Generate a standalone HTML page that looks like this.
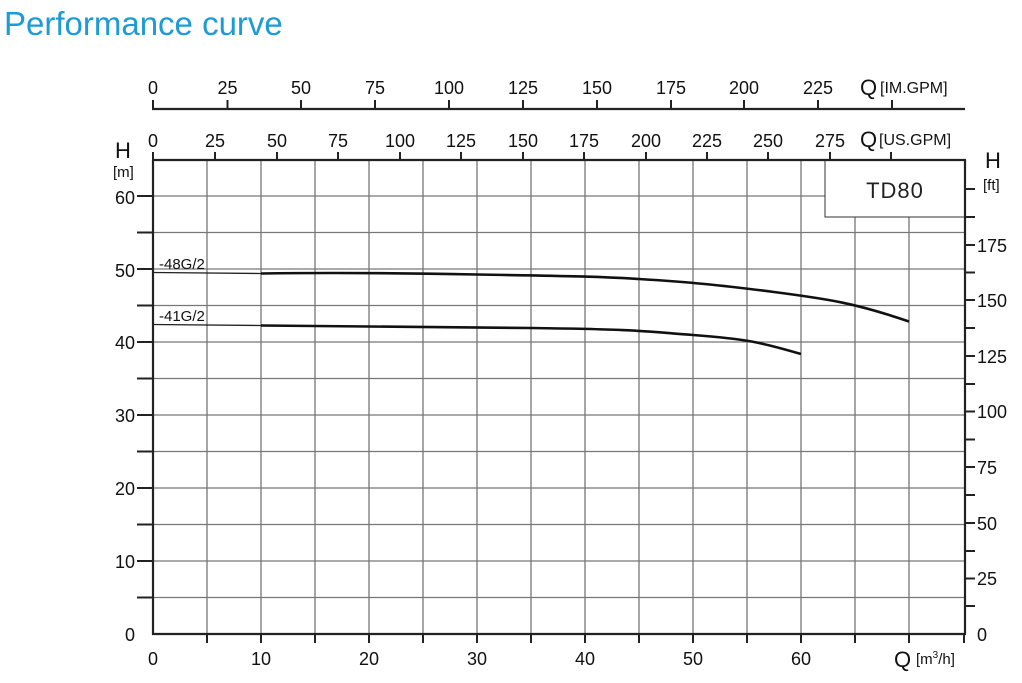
<!DOCTYPE html>
<html><head><style>body{margin:0;background:#fff}svg{display:block}text{font-family:"Liberation Sans",Arial,sans-serif}</style></head><body>
<svg width="1022" height="683" viewBox="0 0 1022 683" xmlns="http://www.w3.org/2000/svg">
<text x="4" y="35" font-size="33" fill="#1d9bd7">Performance curve</text>
<g stroke="#777" stroke-width="1.3">
<line x1="207" y1="160" x2="207" y2="634"/><line x1="261" y1="160" x2="261" y2="634"/><line x1="315" y1="160" x2="315" y2="634"/><line x1="369" y1="160" x2="369" y2="634"/><line x1="423" y1="160" x2="423" y2="634"/><line x1="477" y1="160" x2="477" y2="634"/><line x1="531" y1="160" x2="531" y2="634"/><line x1="585" y1="160" x2="585" y2="634"/><line x1="639" y1="160" x2="639" y2="634"/><line x1="693" y1="160" x2="693" y2="634"/><line x1="747" y1="160" x2="747" y2="634"/><line x1="801" y1="160" x2="801" y2="634"/><line x1="855" y1="217" x2="855" y2="634"/><line x1="909" y1="217" x2="909" y2="634"/>
<line x1="153" y1="597.5" x2="965" y2="597.5"/><line x1="153" y1="561" x2="965" y2="561"/><line x1="153" y1="524.5" x2="965" y2="524.5"/><line x1="153" y1="488" x2="965" y2="488"/><line x1="153" y1="451.5" x2="965" y2="451.5"/><line x1="153" y1="415" x2="965" y2="415"/><line x1="153" y1="378.5" x2="965" y2="378.5"/><line x1="153" y1="342" x2="965" y2="342"/><line x1="153" y1="305.5" x2="965" y2="305.5"/><line x1="153" y1="269" x2="965" y2="269"/><line x1="153" y1="232.5" x2="965" y2="232.5"/><line x1="153" y1="196" x2="825" y2="196"/>
</g>
<rect x="825" y="160" width="140" height="57" fill="#fff" stroke="#333" stroke-width="1"/>
<text x="895" y="198" font-size="22" fill="#222" text-anchor="middle" letter-spacing="1">TD80</text>
<g stroke="#222" stroke-width="2.2" fill="none">
<line x1="153" y1="160" x2="153" y2="635"/><line x1="965" y1="160" x2="965" y2="635"/>
<line x1="152" y1="634" x2="966" y2="634"/><line x1="152" y1="160" x2="966" y2="160"/>
<line x1="152" y1="109" x2="965" y2="109"/>
</g>
<g stroke="#222" stroke-width="2">
<line x1="137" y1="597.5" x2="153" y2="597.5"/><line x1="137" y1="561" x2="153" y2="561"/><line x1="137" y1="524.5" x2="153" y2="524.5"/><line x1="137" y1="488" x2="153" y2="488"/><line x1="137" y1="451.5" x2="153" y2="451.5"/><line x1="137" y1="415" x2="153" y2="415"/><line x1="137" y1="378.5" x2="153" y2="378.5"/><line x1="137" y1="342" x2="153" y2="342"/><line x1="137" y1="305.5" x2="153" y2="305.5"/><line x1="137" y1="269" x2="153" y2="269"/><line x1="137" y1="232.5" x2="153" y2="232.5"/><line x1="137" y1="196" x2="153" y2="196"/>
<line x1="207" y1="634" x2="207" y2="643"/><line x1="261" y1="634" x2="261" y2="643"/><line x1="315" y1="634" x2="315" y2="643"/><line x1="369" y1="634" x2="369" y2="643"/><line x1="423" y1="634" x2="423" y2="643"/><line x1="477" y1="634" x2="477" y2="643"/><line x1="531" y1="634" x2="531" y2="643"/><line x1="585" y1="634" x2="585" y2="643"/><line x1="639" y1="634" x2="639" y2="643"/><line x1="693" y1="634" x2="693" y2="643"/><line x1="747" y1="634" x2="747" y2="643"/><line x1="801" y1="634" x2="801" y2="643"/><line x1="855" y1="634" x2="855" y2="643"/><line x1="909" y1="634" x2="909" y2="643"/><line x1="964" y1="634" x2="964" y2="643"/>
<line x1="965" y1="606" x2="975" y2="606"/><line x1="965" y1="578.5" x2="975" y2="578.5"/><line x1="965" y1="551" x2="975" y2="551"/><line x1="965" y1="523" x2="975" y2="523"/><line x1="965" y1="495" x2="975" y2="495"/><line x1="965" y1="467" x2="975" y2="467"/><line x1="965" y1="439.5" x2="975" y2="439.5"/><line x1="965" y1="411.5" x2="975" y2="411.5"/><line x1="965" y1="384" x2="975" y2="384"/><line x1="965" y1="356" x2="975" y2="356"/><line x1="965" y1="328" x2="975" y2="328"/><line x1="965" y1="300" x2="975" y2="300"/><line x1="965" y1="272.5" x2="975" y2="272.5"/><line x1="965" y1="245" x2="975" y2="245"/><line x1="965" y1="217" x2="975" y2="217"/><line x1="965" y1="189" x2="975" y2="189"/>
<line x1="153" y1="152" x2="153" y2="160"/><line x1="215" y1="152" x2="215" y2="160"/><line x1="277" y1="152" x2="277" y2="160"/><line x1="338" y1="152" x2="338" y2="160"/><line x1="400" y1="152" x2="400" y2="160"/><line x1="461" y1="152" x2="461" y2="160"/><line x1="523" y1="152" x2="523" y2="160"/><line x1="584" y1="152" x2="584" y2="160"/><line x1="646" y1="152" x2="646" y2="160"/><line x1="707" y1="152" x2="707" y2="160"/><line x1="768" y1="152" x2="768" y2="160"/><line x1="830" y1="152" x2="830" y2="160"/><line x1="891" y1="152" x2="891" y2="160"/>
<line x1="153" y1="100" x2="153" y2="109"/><line x1="227.5" y1="100" x2="227.5" y2="109"/><line x1="301" y1="100" x2="301" y2="109"/><line x1="375" y1="100" x2="375" y2="109"/><line x1="449" y1="100" x2="449" y2="109"/><line x1="523" y1="100" x2="523" y2="109"/><line x1="597" y1="100" x2="597" y2="109"/><line x1="671" y1="100" x2="671" y2="109"/><line x1="744" y1="100" x2="744" y2="109"/><line x1="818" y1="100" x2="818" y2="109"/><line x1="892" y1="100" x2="892" y2="109"/>
</g>
<g font-size="18" fill="#111">
<g text-anchor="end"><text x="135" y="641">0</text><text x="135" y="568">10</text><text x="135" y="495">20</text><text x="135" y="422">30</text><text x="135" y="349">40</text><text x="135" y="277">50</text><text x="135" y="204">60</text></g>
<g text-anchor="middle"><text x="153" y="665">0</text><text x="261" y="665">10</text><text x="369" y="665">20</text><text x="477" y="665">30</text><text x="585" y="665">40</text><text x="693" y="665">50</text><text x="801" y="665">60</text>
<text x="153" y="147">0</text><text x="215" y="147">25</text><text x="277" y="147">50</text><text x="338" y="147">75</text><text x="400" y="147">100</text><text x="461" y="147">125</text><text x="523" y="147">150</text><text x="584" y="147">175</text><text x="646" y="147">200</text><text x="707" y="147">225</text><text x="768" y="147">250</text><text x="830" y="147">275</text>
<text x="153" y="94">0</text><text x="227.5" y="94">25</text><text x="301" y="94">50</text><text x="375" y="94">75</text><text x="449" y="94">100</text><text x="523" y="94">125</text><text x="597" y="94">150</text><text x="671" y="94">175</text><text x="744" y="94">200</text><text x="818" y="94">225</text></g>
<text x="977" y="641">0</text><text x="977" y="585">25</text><text x="977" y="530">50</text><text x="977" y="474">75</text><text x="977" y="418">100</text><text x="977" y="363">125</text><text x="977" y="307">150</text><text x="977" y="252">175</text>
</g>
<text x="894" y="667" font-size="22" fill="#111">Q</text><text x="916" y="664" font-size="15" fill="#111">[m<tspan font-size="10" dy="-6">3</tspan><tspan dy="6">/h]</tspan></text>
<text x="860" y="147" font-size="22" fill="#111">Q</text><text x="879" y="145" font-size="16" fill="#111">[US.GPM]</text>
<text x="860" y="95" font-size="22" fill="#111">Q</text><text x="880" y="93" font-size="16" fill="#111">[IM.GPM]</text>
<text x="115" y="158" font-size="22" fill="#111">H</text><text x="113" y="177" font-size="15" fill="#111">[m]</text>
<text x="985" y="168" font-size="22" fill="#111">H</text><text x="983" y="190" font-size="15" fill="#111">[ft]</text>
<text x="159" y="269" font-size="15" fill="#111">-48G/2</text><text x="159" y="321" font-size="15" fill="#111">-41G/2</text>
<line x1="153" y1="272.5" x2="261" y2="273.5" stroke="#222" stroke-width="1.3"/>
<line x1="153" y1="324.5" x2="261" y2="325.5" stroke="#222" stroke-width="1.3"/>
<g stroke="#111" stroke-width="2.6" fill="none">
<path d="M261 273.5 C330 272.5 400 273 477 274.5 S590 276 639 279 S720 285 774 292 S855 303 909 321.5"/>
<path d="M261 325.5 C340 326 420 326.5 531 328 S640 331 693 335 S760 342 801 354"/>
</g>
</svg>
</body></html>
